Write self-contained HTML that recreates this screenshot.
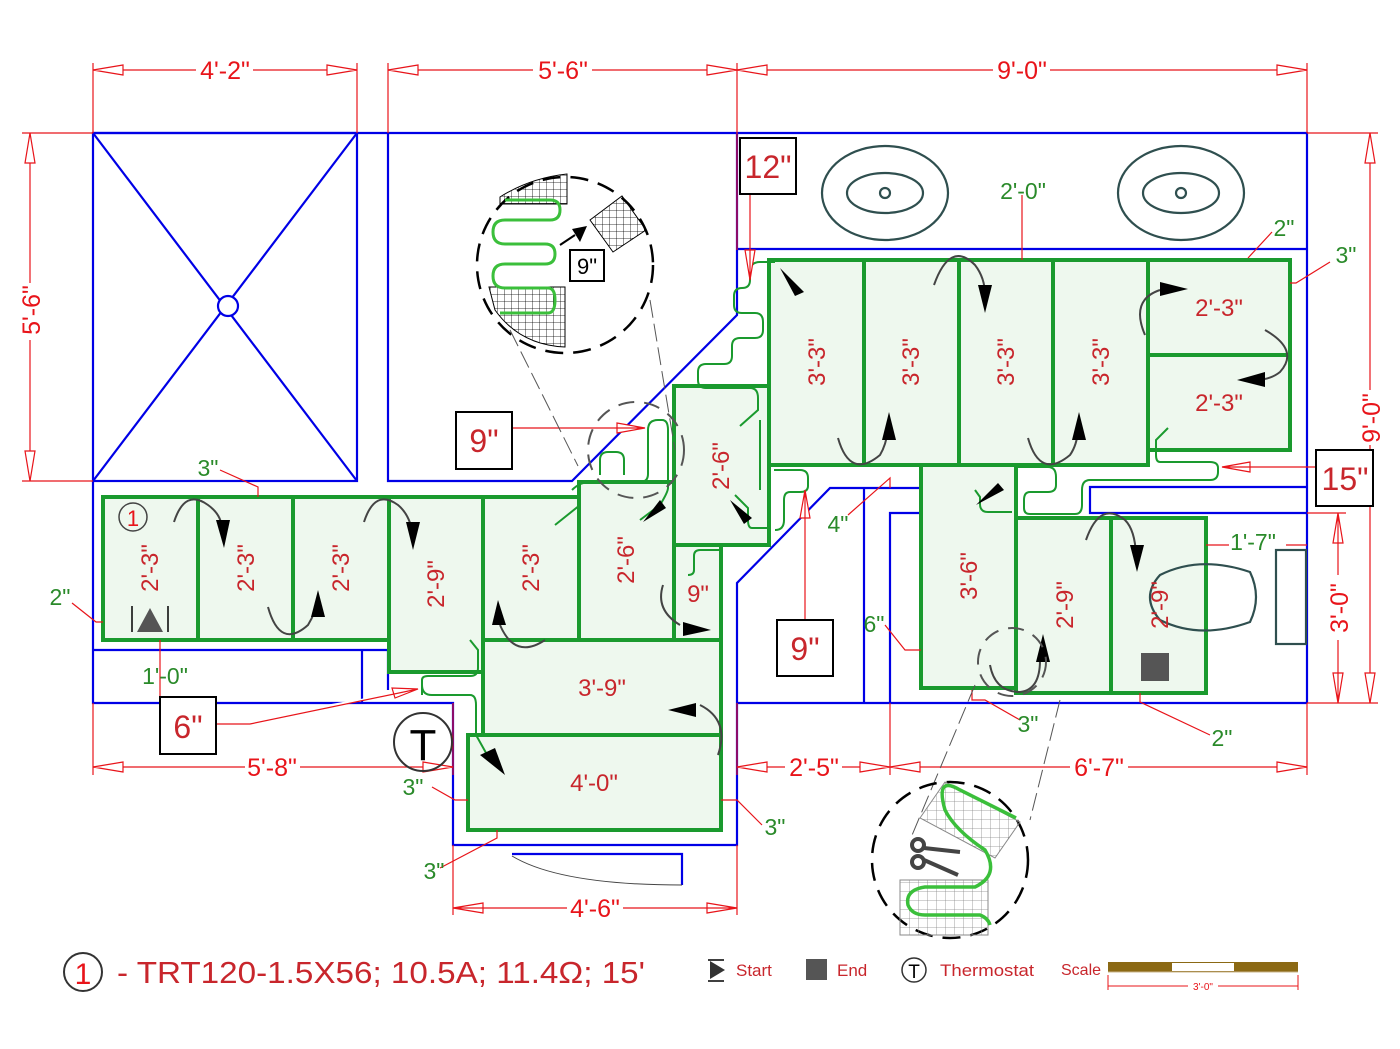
<!DOCTYPE html>
<html><head><meta charset="utf-8"><style>
html,body{margin:0;padding:0;background:#fff}
svg{display:block}
text{font-family:"Liberation Sans",sans-serif}
.w{stroke:#0000e6;stroke-width:2.2;fill:none}
.g{stroke:#1a9a2e;stroke-width:4;fill:#eef8ee}
.gl{stroke:#1a9a2e;stroke-width:4;fill:none}
.c{stroke:#1a9a2e;stroke-width:2;fill:none}
.d{stroke:#e8141a;stroke-width:1.2;fill:none}
.dt{fill:#e8141a;font-size:25px}
.zt{fill:#c8262c;font-size:24px}
.gt{fill:#2a8a2a;font-size:23px}
.arc{stroke:#444;stroke-width:2;fill:none}
.bx{stroke:#000;stroke-width:2;fill:#fff}
</style></head><body>
<svg width="1400" height="1049" viewBox="0 0 1400 1049" xmlns="http://www.w3.org/2000/svg">
<defs>
<pattern id="grid" width="7" height="7" patternUnits="userSpaceOnUse"><path d="M7,0 L0,0 0,7" fill="none" stroke="#000" stroke-width="0.8"/></pattern>
<pattern id="grid2" width="9" height="9" patternUnits="userSpaceOnUse"><path d="M9,0 L0,0 0,9" fill="none" stroke="#888" stroke-width="0.8"/></pattern>
</defs>

<g class="w">
<path d="M93,133 H1307 V703"/>
<rect x="93" y="133" width="264" height="348"/>
<path d="M93,133 L357,481 M357,133 L93,481"/>
<circle cx="228" cy="306" r="10" fill="#fff"/>
<path d="M388,133 V481 H572 L737,315 V133"/>
<path d="M737,249 H1307"/>
<path d="M93,481 V703 H453 V845 H737 V583 L830,488 H920"/>
<path d="M93,650 H388 V690 M362,650 V703"/>
<path d="M737,703 H1307"/>
<path d="M864,488 V703 M890,703 V513 H920"/>
<path d="M1307,487 H1090 V513 H1307"/>
<path d="M512,854 H682 V885"/>
<path d="M512,856 Q560,885 682,885" stroke="#444" stroke-width="1"/>
</g>

<g stroke="#2f4f4f" stroke-width="2.2" fill="none">
<ellipse cx="885" cy="193" rx="63" ry="47"/><ellipse cx="885" cy="193" rx="38" ry="20"/><circle cx="885" cy="193" r="5"/>
<ellipse cx="1181" cy="193" rx="63" ry="47"/><ellipse cx="1181" cy="193" rx="38" ry="20"/><circle cx="1181" cy="193" r="5"/>
</g>

<g class="g">
<rect x="103" y="497" width="286" height="143"/>
<rect x="389" y="497" width="94" height="175"/>
<rect x="483" y="497" width="96" height="143"/>
<rect x="579" y="482" width="95" height="158"/>
<rect x="674" y="545" width="47" height="95"/>
<rect x="483" y="640" width="238" height="95"/>
<rect x="468" y="735" width="253" height="95"/>
<rect x="674" y="386" width="95" height="159"/>
<rect x="769" y="260" width="379" height="205"/>
<rect x="1148" y="260" width="142" height="190"/>
<rect x="921" y="465" width="95" height="223"/>
<rect x="1016" y="518" width="190" height="175"/>
</g>
<g class="gl">
<path d="M198,497 V640 M293,497 V640 M864,260 V465 M959,260 V465 M1053,260 V465 M1148,355 H1290 M1111,518 V693"/>
</g>

<g stroke="#2f4f4f" stroke-width="2.2" fill="none">
<path d="M1160,575 Q1200,555 1250,572 Q1262,597 1250,622 Q1200,640 1160,620 Q1140,597 1160,575 Z"/>
<rect x="1276" y="550" width="30" height="94"/>
</g>

<g class="c">
<path d="M775,262 H760 Q750,262 750,272 V280 Q750,288 742,288 Q734,288 734,296 V305 Q734,313 742,313 H755 Q763,313 763,322 V330 Q763,338 755,338 H740 Q732,338 732,346 V356 Q732,364 724,364 H706 Q698,364 698,372 V380 Q698,388 706,388 H750 Q758,388 758,398 V410 L740,426"/>
<path d="M572,490 Q580,482 590,482 H640 Q648,482 648,474 V430 Q648,420 658,420 H662 Q668,420 668,430 V488 Q668,492 660,505 L640,520"/>
<path d="M580,490 V505 L555,525"/>
<path d="M624,475 V460 Q624,452 616,452 H608 Q600,452 600,460 V475"/>
<path d="M760,490 V420"/>
<path d="M769,528 H752 Q748,528 748,520 V508 L735,495"/>
<path d="M720,550 H700 Q694,550 694,556 V570 Q694,575 688,575 M720,548 V560"/>
<path d="M774,470 H800 Q808,470 808,478 V486 Q808,492 800,492 H790 Q784,492 784,500 V520 Q784,530 775,530"/>
<path d="M1016,467 H1048 Q1056,467 1056,477 V485 Q1056,492 1048,492 H1030 Q1024,492 1024,500 V508 Q1024,514 1030,514 H1075 Q1082,514 1082,505 V490 Q1082,480 1090,480 H1210 Q1218,480 1218,472 V468 Q1218,462 1210,462 H1160 Q1156,462 1156,455 V440 L1168,428"/>
<path d="M1012,512 H988 Q980,512 980,504 V497 L975,490"/>
<path d="M422,695 V680 Q422,676 428,676 H470 Q478,676 478,668 V650 L470,640"/>
<path d="M422,685 Q422,695 432,695 H470 Q476,695 476,705 V735 L490,760"/>
</g>

<g class="arc">
<path d="M174,522 Q185,488 208,505 Q222,515 222,530"/>
<path d="M268,607 Q280,650 308,625 Q316,612 318,598"/>
<path d="M364,522 Q375,488 398,505 Q410,515 413,535"/>
<path d="M500,625 Q515,660 545,640"/>
<path d="M663,585 Q655,610 680,625"/>
<path d="M838,438 Q850,480 880,455 Q886,445 888,430"/>
<path d="M934,285 Q950,240 975,265 Q985,278 985,295"/>
<path d="M1028,438 Q1040,480 1070,455 Q1077,445 1078,430"/>
<path d="M1145,335 Q1130,300 1160,290"/>
<path d="M1265,330 Q1300,350 1280,372 Q1270,380 1255,380"/>
<path d="M1086,540 Q1100,500 1125,520 Q1135,530 1136,555"/>
<path d="M700,705 Q730,720 718,755"/>
<path d="M1040,660 Q1040,690 1020,692 Q995,692 990,665"/>
</g>
<g fill="#000">
<polygon points="216,520 230,520 224,548"/>
<polygon points="311,617 325,617 318,590"/>
<polygon points="406,522 420,522 413,550"/>
<polygon points="492,625 506,625 498,600"/>
<polygon points="683,622 683,636 711,630"/>
<polygon points="643,522 660,500 666,508"/>
<polygon points="730,500 752,518 744,524"/>
<polygon points="780,268 804,292 795,296"/>
<polygon points="882,440 896,440 889,412"/>
<polygon points="978,285 992,285 985,313"/>
<polygon points="1072,440 1086,440 1079,412"/>
<polygon points="1160,282 1160,296 1188,289"/>
<polygon points="1265,372 1265,387 1237,380"/>
<polygon points="976,505 998,483 1004,490"/>
<polygon points="1130,545 1144,545 1137,572"/>
<polygon points="1036,662 1050,662 1043,634"/>
<polygon points="696,703 696,717 668,710"/>
<polygon points="480,755 495,748 505,775"/>
<polygon points="137,632 163,632 150,608" fill="#555"/>
<rect x="1141" y="653" width="28" height="28" fill="#555"/>
</g>
<path d="M132,606 V632 M168,606 V632" stroke="#000" stroke-width="1.5"/>

<g class="d">
<path d="M93,63 V133 M357,63 V133 M388,63 V133 M737,63 V250 M1307,63 V133"/>
<path d="M93,70 H196 M253,70 H357 M388,70 H533 M592,70 H737 M737,70 H993 M1050,70 H1307"/>
<path d="M93,70 L123,65 V75 Z M357,70 L327,65 V75 Z M388,70 L418,65 V75 Z M737,70 L707,65 V75 Z M737,70 L767,65 V75 Z M1307,70 L1277,65 V75 Z" fill="#fff"/>
<path d="M22,133 H93 M22,481 H93 M30,133 V283 M30,340 V481"/>
<path d="M30,133 L25,163 H35 Z M30,481 L25,451 H35 Z" fill="#fff"/>
<path d="M1307,133 H1378 M1307,703 H1378 M1370,133 V390 M1370,445 V703" />
<path d="M1370,133 L1365,163 H1375 Z M1370,703 L1365,673 H1375 Z" fill="#fff"/>
<path d="M1307,513 H1346 M1338,513 V575 M1338,640 V703 M1338,513 L1333,543 H1343 Z M1338,703 L1333,673 H1343 Z" fill="#fff"/>
<path d="M93,703 V775 M453,703 V775 M737,703 V775 M890,703 V775 M1307,703 V775"/>
<path d="M93,767 H245 M300,767 H453 M737,767 H785 M842,767 H890 M890,767 H1070 M1128,767 H1307"/>
<path d="M93,767 L123,762 V772 Z M453,767 L423,762 V772 Z M737,767 L767,762 V772 Z M890,767 L860,762 V772 Z M890,767 L920,762 V772 Z M1307,767 L1277,762 V772 Z" fill="#fff"/>
<path d="M453,845 V915 M737,845 V915 M453,908 H567 M623,908 H737 M453,908 L483,903 V913 Z M737,908 L707,903 V913 Z" fill="#fff"/>
<path d="M1022,195 V260 M750,194 V280 M750,280 L745,250 H755 Z" fill="#fff"/>
<path d="M1272,232 L1248,258 M1330,262 L1296,283 H1290"/>
<path d="M512,428 H645 M645,428 L617,423 V433 Z" fill="#fff"/>
<path d="M1316,467 H1222 M1222,467 L1250,462 V472 Z" fill="#fff"/>
<path d="M216,724 H250 L418,689 M418,689 L392,688 L395,698 Z" fill="#fff"/>
<path d="M805,620 V490 M805,490 L800,518 H810 Z" fill="#fff"/>
<path d="M220,470 L258,487 V497"/>
<path d="M72,603 L96,622 H103"/>
<path d="M160,640 V697"/>
<path d="M848,515 L890,478 V488"/>
<path d="M885,625 L905,650 H921"/>
<path d="M1020,720 L985,700 H972 V690"/>
<path d="M1210,735 L1140,702 V693"/>
<path d="M1229,545 H1206 M1286,545 H1307"/>
<path d="M432,787 L455,800 H468"/>
<path d="M762,825 L737,800 H721"/>
<path d="M440,868 L497,838 V830"/>
</g>
<g class="dt" text-anchor="middle">
<text x="225" y="79">4'-2"</text>
<text x="563" y="79">5'-6"</text>
<text x="1022" y="79">9'-0"</text>
<text x="272" y="776">5'-8"</text>
<text x="814" y="776">2'-5"</text>
<text x="1099" y="776">6'-7"</text>
<text x="595" y="917">4'-6"</text>
<text transform="translate(40,310) rotate(-90)">5'-6"</text>
<text transform="translate(1380,418) rotate(-90)">9'-0"</text>
<text transform="translate(1348,608) rotate(-90)">3'-0"</text>
</g>

<g class="bx">
<rect x="740" y="138" width="56" height="56"/>
<rect x="456" y="412" width="56" height="57"/>
<rect x="1316" y="450" width="57" height="56"/>
<rect x="160" y="697" width="56" height="57"/>
<rect x="777" y="620" width="56" height="56"/>
</g>
<g fill="#c8262c" font-size="32" text-anchor="middle">
<text x="768" y="178">12"</text>
<text x="484" y="452">9"</text>
<text x="1345" y="490">15"</text>
<text x="188" y="738">6"</text>
<text x="805" y="660">9"</text>
</g>

<g class="zt" text-anchor="middle">
<text transform="translate(158,568) rotate(-90)">2'-3"</text>
<text transform="translate(254,568) rotate(-90)">2'-3"</text>
<text transform="translate(349,568) rotate(-90)">2'-3"</text>
<text transform="translate(444,584) rotate(-90)">2'-9"</text>
<text transform="translate(539,568) rotate(-90)">2'-3"</text>
<text transform="translate(634,560) rotate(-90)">2'-6"</text>
<text x="698" y="602">9"</text>
<text transform="translate(729,466) rotate(-90)">2'-6"</text>
<text transform="translate(825,362) rotate(-90)">3'-3"</text>
<text transform="translate(919,362) rotate(-90)">3'-3"</text>
<text transform="translate(1014,362) rotate(-90)">3'-3"</text>
<text transform="translate(1109,362) rotate(-90)">3'-3"</text>
<text x="1219" y="316">2'-3"</text>
<text x="1219" y="411">2'-3"</text>
<text transform="translate(977,576) rotate(-90)">3'-6"</text>
<text transform="translate(1073,605) rotate(-90)">2'-9"</text>
<text transform="translate(1168,605) rotate(-90)">2'-9"</text>
<text x="602" y="696">3'-9"</text>
<text x="594" y="791">4'-0"</text>
</g>
<circle cx="133" cy="517" r="14" fill="none" stroke="#444" stroke-width="1.5"/>
<text x="133" y="526" fill="#e8141a" font-size="22" text-anchor="middle">1</text>

<g class="gt" text-anchor="middle">
<text x="1023" y="199">2'-0"</text>
<text x="1284" y="236">2"</text>
<text x="1346" y="263">3"</text>
<text x="208" y="476">3"</text>
<text x="60" y="605">2"</text>
<text x="165" y="684">1'-0"</text>
<text x="838" y="532">4"</text>
<text x="874" y="632">6"</text>
<text x="1253" y="550">1'-7"</text>
<text x="1028" y="732">3"</text>
<text x="1222" y="746">2"</text>
<text x="413" y="795">3"</text>
<text x="775" y="835">3"</text>
<text x="434" y="879">3"</text>
</g>

<circle cx="423" cy="742" r="29" fill="none" stroke="#333" stroke-width="2"/>
<text x="423" y="760" font-size="44" text-anchor="middle" fill="#000">T</text>

<circle cx="565" cy="265" r="88" fill="none" stroke="#000" stroke-width="2.5" stroke-dasharray="18,10"/>
<path d="M500,197 Q530,178 567,174 V204 H500 Z" fill="url(#grid)" stroke="#000" stroke-width="1"/>
<path d="M489,287 H565 V347 Q520,345 495,310 Z" fill="url(#grid)" stroke="#000" stroke-width="1"/>
<polygon points="590,220 622,196 646,230 613,252" fill="url(#grid)" stroke="#000" stroke-width="1"/>
<path d="M505,200 H550 Q560,200 560,210 Q560,220 550,220 H505 Q493,220 493,232 Q493,244 505,244 H545 Q555,244 555,254 Q555,264 545,264 H505 Q493,264 493,276 Q493,288 505,288 H548 Q555,288 555,300 Q555,313 548,313 H500" fill="none" stroke="#3bbf3b" stroke-width="3"/>
<path d="M560,245 L575,235" stroke="#000" stroke-width="2"/>
<polygon points="572,229 587,226 580,242"/>
<rect x="570" y="250" width="34" height="31" fill="#fff" stroke="#000" stroke-width="2"/>
<text x="587" y="274" font-size="22" text-anchor="middle">9"</text>
<path d="M510,330 L578,466 M650,300 L675,450" stroke="#555" stroke-width="1" stroke-dasharray="18,6"/>
<circle cx="636" cy="450" r="48" fill="none" stroke="#555" stroke-width="2" stroke-dasharray="16,10"/>
<circle cx="1012" cy="662" r="34" fill="none" stroke="#555" stroke-width="2" stroke-dasharray="16,10"/>
<path d="M975,685 L910,840 M1060,700 L1030,820" stroke="#555" stroke-width="1" stroke-dasharray="18,6"/>
<circle cx="950" cy="860" r="78" fill="none" stroke="#000" stroke-width="2.5" stroke-dasharray="18,10"/>
<polygon points="920,818 945,782 1020,822 995,858" fill="url(#grid2)" stroke="#888" stroke-width="1"/>
<rect x="900" y="880" width="88" height="55" fill="url(#grid2)" stroke="#888" stroke-width="1"/>
<path d="M1016,818 Q980,800 960,790 Q935,775 945,810 Q955,830 985,850 Q1000,875 975,887 H925 Q905,890 908,905 Q912,915 925,915 H980 Q988,918 990,925" fill="none" stroke="#3bbf3b" stroke-width="3.5"/>
<g stroke="#444" stroke-width="4" fill="none"><circle cx="918" cy="845" r="6"/><circle cx="918" cy="862" r="6"/><path d="M924,848 L960,852 M924,860 L958,875"/></g>

<circle cx="83" cy="972" r="19" fill="none" stroke="#333" stroke-width="2"/>
<text x="83" y="984" font-size="30" fill="#e8141a" text-anchor="middle">1</text>
<text x="117" y="983" font-size="31" fill="#c8262c" textLength="528" lengthAdjust="spacingAndGlyphs">- TRT120-1.5X56; 10.5A; 11.4Ω; 15'</text>
<polygon points="710,961 725,970 710,979" fill="#333"/>
<path d="M708,960 H724 M708,981 H724" stroke="#000" stroke-width="1.5"/>
<text x="736" y="976" font-size="17" fill="#c8262c">Start</text>
<rect x="806" y="959" width="21" height="21" fill="#555"/>
<text x="837" y="976" font-size="17" fill="#c8262c">End</text>
<circle cx="914" cy="970" r="12" fill="none" stroke="#333" stroke-width="1.5"/>
<text x="914" y="978" font-size="19" text-anchor="middle">T</text>
<text x="940" y="976" font-size="17" fill="#c8262c" textLength="94" lengthAdjust="spacingAndGlyphs">Thermostat</text>
<text x="1061" y="975" font-size="16" fill="#c8262c">Scale</text>
<rect x="1108" y="962" width="190" height="10" fill="#8b6914"/>
<rect x="1172" y="963" width="62" height="8" fill="#fff"/>
<path d="M1108,972 H1298" stroke="#c8b48a" stroke-width="1"/>
<path d="M1108,975 V990 M1298,975 V990 M1108,986 H1188 M1218,986 H1298" stroke="#e8141a" stroke-width="1"/>
<text x="1203" y="990" font-size="10" fill="#e8141a" text-anchor="middle">3'-0"</text>
</svg>
</body></html>
